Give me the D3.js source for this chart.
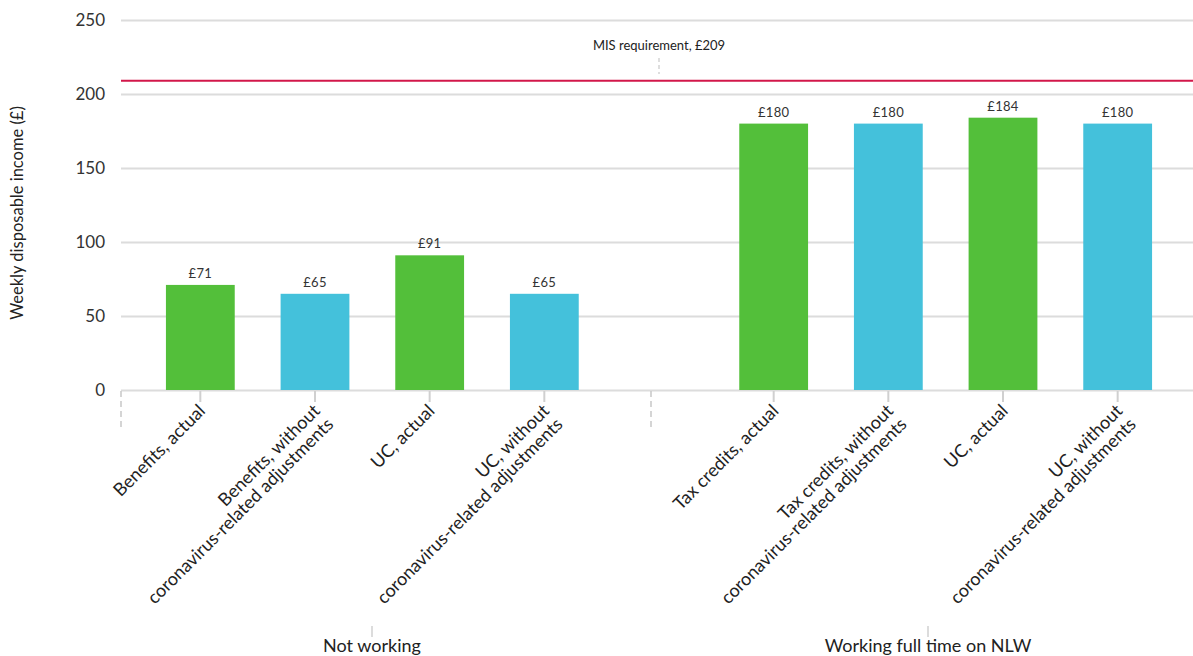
<!DOCTYPE html>
<html>
<head>
<meta charset="utf-8">
<script src="https://cdn.jsdelivr.net/npm/d3@7"></script>
<style>
  html, body { margin: 0; padding: 0; background: #fff; }
  svg { display: block; font-family: Lato, "Open Sans", sans-serif; }
</style>
</head>
<body>
<svg id="chart" width="1193" height="656"></svg>
<script>
// ---- data ----
const categories = [
  "Benefits, actual",
  "Benefits, without\ncoronavirus-related adjustments",
  "UC, actual",
  "UC, without\ncoronavirus-related adjustments",
  "Tax credits, actual",
  "Tax credits, without\ncoronavirus-related adjustments",
  "UC, actual",
  "UC, without\ncoronavirus-related adjustments"
];
const groups = ["Not working", "Working full time on NLW"];
const groupIndex = [0, 0, 0, 0, 1, 1, 1, 1];
const values = [71, 65, 91, 65, 180, 180, 184, 180];
const seriesKind = ["actual", "without", "actual", "without", "actual", "without", "actual", "without"];
const misValue = 209;
const misLabel = "MIS requirement, £209";
const yTicks = [0, 50, 100, 150, 200, 250];
const yTitle = "Weekly disposable income (£)";

// ---- layout ----
const W = 1193, H = 656;
const plotLeft = 121, plotRight = 1193;
const y0 = 390, yTop = 20;
const colors = { actual: "#53bf3a", without: "#44c1db" };

const svg = d3.select("#chart");

// slots: 4 bars, an empty gap slot, 4 bars
const slotKeys = [];
categories.forEach((c, i) => {
  if (i === 4) slotKeys.push("gap");
  slotKeys.push("c" + i);
});
const keyOf = i => "c" + i;

const x = d3.scaleBand().domain(slotKeys).range([143, 1175]).paddingInner(0.4).paddingOuter(0.2);
const y = d3.scaleLinear().domain([0, 250]).range([y0, yTop]);

// gridlines + y labels
const yAxis = d3.axisLeft(y).tickValues(yTicks).tickSize(-(plotRight - plotLeft)).tickPadding(16);
const gy = svg.append("g").attr("transform", `translate(${plotLeft},0)`).call(yAxis);
gy.select(".domain").remove();
gy.selectAll(".tick line").attr("stroke", "#dcdcdc").attr("stroke-width", 2);
gy.selectAll(".tick text").attr("fill", "#333").style("font-size", "17px").attr("font-family", "Lato, sans-serif");

// y title
svg.append("text")
  .attr("transform", `translate(23,${(y0 + yTop) / 2 + 8}) rotate(-90)`)
  .attr("text-anchor", "middle")
  .attr("fill", "#222")
  .style("font-size", "16.5px")
  .text(yTitle);

// bars
const idx = d3.range(values.length);
svg.append("g").selectAll("rect").data(idx).join("rect")
  .attr("x", i => x(keyOf(i)))
  .attr("width", x.bandwidth())
  .attr("y", i => y(values[i]))
  .attr("height", i => y(0) - y(values[i]))
  .attr("fill", i => colors[seriesKind[i]]);

// value labels
svg.append("g").selectAll("text").data(idx).join("text")
  .attr("x", i => x(keyOf(i)) + x.bandwidth() / 2)
  .attr("y", i => y(values[i]) - 7)
  .attr("text-anchor", "middle")
  .attr("fill", "#333")
  .style("font-size", "13px")
  .style("letter-spacing", "0.3px")
  .text(i => "£" + values[i]);

// x ticks
svg.append("g").selectAll("line").data(idx).join("line")
  .attr("x1", i => x(keyOf(i)) + x.bandwidth() / 2)
  .attr("x2", i => x(keyOf(i)) + x.bandwidth() / 2)
  .attr("y1", y0 + 1).attr("y2", y0 + 12)
  .attr("stroke", "#d0d0d0").attr("stroke-width", 2);

// dashed group separators
const sepX = [plotLeft, 651];
svg.append("g").selectAll("line").data(sepX).join("line")
  .attr("x1", d => d).attr("x2", d => d)
  .attr("y1", y0 + 1).attr("y2", y0 + 38)
  .attr("stroke", "#c8c8c8").attr("stroke-width", 1.5).attr("stroke-dasharray", "6,4");

// rotated category labels
const lbl = svg.append("g").selectAll("g").data(idx).join("g")
  .attr("transform", i => `translate(${x(keyOf(i)) + x.bandwidth() / 2 + 6},${y0 + 22}) rotate(-45)`);
lbl.each(function (i) {
  const lines = categories[i].split("\n");
  const t = d3.select(this).append("text")
    .attr("text-anchor", "end")
    .attr("fill", "#222")
    .style("font-size", "18px");
  lines.forEach((ln, k) => {
    t.append("tspan").attr("x", 0).attr("y", k * 19).text(ln);
  });
});

// group labels
const groupLabelX = [372, 928];
svg.append("g").selectAll("line").data(groups).join("line")
  .attr("x1", (d, i) => groupLabelX[i]).attr("x2", (d, i) => groupLabelX[i])
  .attr("y1", 626).attr("y2", 637)
  .attr("stroke", "#d0d0d0").attr("stroke-width", 1.5);
svg.append("g").selectAll("text").data(groups).join("text")
  .attr("x", (d, i) => groupLabelX[i])
  .attr("y", 652)
  .attr("text-anchor", "middle")
  .attr("fill", "#222")
  .style("font-size", "18px")
  .text(d => d);

// MIS line
svg.append("line")
  .attr("x1", plotLeft).attr("x2", plotRight)
  .attr("y1", y(misValue)).attr("y2", y(misValue))
  .attr("stroke", "#d2174a").attr("stroke-width", 2);
const misX = (plotLeft + plotRight) / 2 + 2;
svg.append("line")
  .attr("x1", misX).attr("x2", misX)
  .attr("y1", 58).attr("y2", 74)
  .attr("stroke", "#c8c8c8").attr("stroke-width", 1.2).attr("stroke-dasharray", "4,3");
svg.append("text")
  .attr("x", misX).attr("y", 50)
  .attr("text-anchor", "middle")
  .attr("fill", "#222")
  .style("font-size", "13px")
  .text(misLabel);
</script>
</body>
</html>
